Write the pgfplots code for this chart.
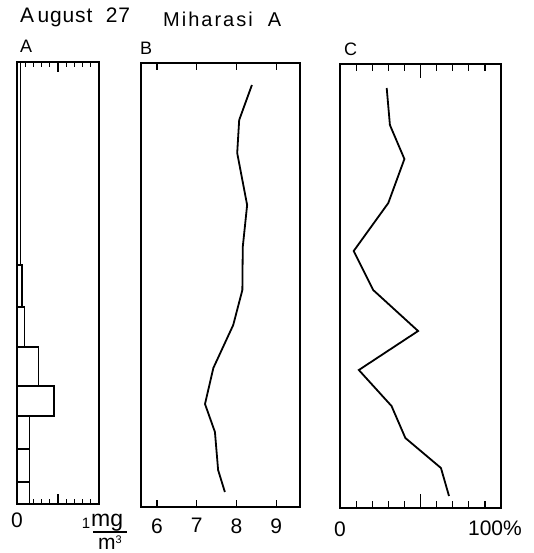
\documentclass[border=0pt]{standalone}
\usepackage{fontspec}
\setmainfont{Liberation Sans}
\usepackage{pgfplots}
\pgfplotsset{compat=1.18}

\pgfplotsset{
  profile/.style={
    scale only axis, y dir=reverse, ytick=\empty, clip=false,
    axis line style={line width=1.8pt},
    tick align=inside,
    tick style={black, line width=1.2pt},
    /pgf/number format/assume math mode=true,
    xticklabel style={font=\fontsize{21}{21}\selectfont},
  },
  curve/.style={black, line width=1.8pt, mark=none, sharp plot},
}

\begin{document}
\begin{tikzpicture}
\useasboundingbox (0,0) rectangle (534pt,-553pt);

% titles
\node[anchor=base west, inner sep=0, font=\fontsize{21}{21}\selectfont\addfontfeatures{LetterSpace=4}] at (20pt,-23pt) {A\,ugust\ \ 27};
\node[anchor=base west, inner sep=0, font=\fontsize{20}{20}\selectfont\addfontfeatures{LetterSpace=10}] at (163pt,-27pt) {Miharasi\ \ A};
\node[anchor=base west, inner sep=0, font=\fontsize{18}{18}\selectfont] at (20pt,-53pt) {A};
\node[anchor=base west, inner sep=0, font=\fontsize{18}{18}\selectfont] at (140pt,-55pt) {B};
\node[anchor=base west, inner sep=0, font=\fontsize{18}{18}\selectfont] at (344pt,-56pt) {C};

% A: mg/m3 profile
\begin{axis}[profile, at={(17pt,-504pt)}, anchor=south west,
  width=82pt, height=442pt,
  xmin=0, xmax=1, ymin=0, ymax=442,
  xtick={0,0.5,1}, xticklabels={0,,},
  xticklabel style={yshift=-5pt},
  minor xtick={0.1,0.2,0.3,0.4,0.6,0.7,0.8,0.9},
  major tick length=10pt, minor tick length=5pt]
  \addplot[xbar interval, fill=white, draw=black, line width=1.4pt] coordinates {
    (0.04,0) (0.06,203) (0.09,245) (0.26,285) (0.45,324)
    (0.155,354) (0.155,387) (0.155,420) (0,442)
  };
\end{axis}
% unit label of A
\node[anchor=base, inner sep=0, font=\fontsize{15}{15}\selectfont] at (86pt,-528pt) {1};
\node[anchor=base west, inner sep=0, font=\fontsize{23}{23}\selectfont] at (91pt,-526pt) {mg};
\draw[line width=1.2pt] (93pt,-532pt) -- (127pt,-532pt);
\node[anchor=base west, inner sep=0, font=\fontsize{21}{21}\selectfont] at (98pt,-549pt) {m\raisebox{6pt}{\fontsize{11}{11}\selectfont 3}};

% B: temperature profile
\begin{axis}[profile, at={(141pt,-507pt)}, anchor=south west,
  width=159pt, height=444pt,
  xmin=5.6, xmax=9.6, ymin=0, ymax=444,
  xtick={6,7,8,9}, major tick length=7pt,
  xticklabel style={yshift=-8pt}]
  \addplot[curve] coordinates {
    (8.39,22) (8.07,57) (8.02,90) (8.27,142) (8.16,184) (8.15,227)
    (7.92,262) (7.42,305) (7.21,341) (7.46,369) (7.54,407) (7.71,429)
  };
\end{axis}

% C: percentage profile
\begin{axis}[profile, at={(340pt,-508pt)}, anchor=south west,
  width=161pt, height=444pt,
  xmin=0, xmax=100, ymin=0, ymax=444,
  xtick={0,50,100}, xticklabels={0,,},
  xticklabel style={yshift=-10pt},
  minor xtick={10,20,30,40,60,70,80,90},
  major tick length=14pt, minor tick length=7pt]
  \addplot[curve] coordinates {
    (29,24) (31,61) (40,95) (30,139) (8.5,187) (20.6,226)
    (48.5,267) (11.7,306) (32,342) (40.6,374) (62.7,404) (67.7,432)
  };
  \node[anchor=north east, inner sep=0, xshift=21pt, yshift=-13pt,
    font=\fontsize{21}{21}\selectfont] at (axis cs:100,444) {100\%};
\end{axis}
\end{tikzpicture}
\end{document}
